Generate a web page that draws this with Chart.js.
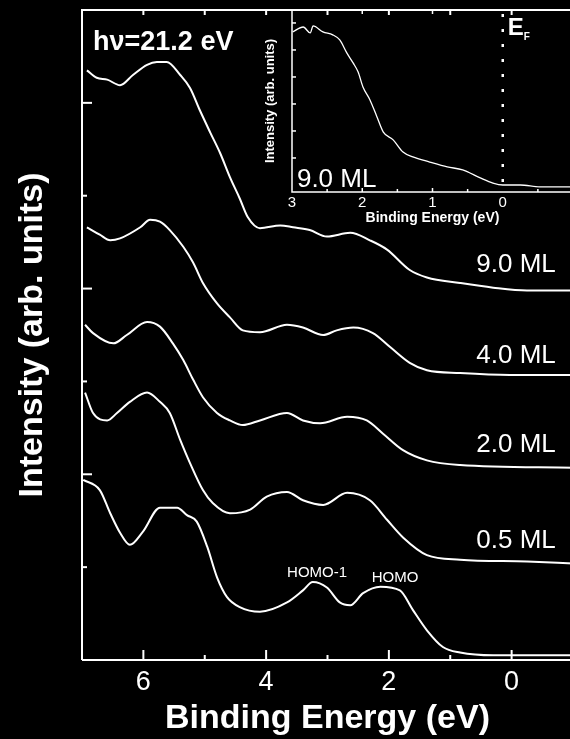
<!DOCTYPE html>
<html><head><meta charset="utf-8">
<script src="https://cdn.jsdelivr.net/npm/chart.js@4.4.1/dist/chart.umd.min.js"></script>
<style>
html,body{margin:0;padding:0;background:#000;overflow:hidden;width:570px;height:739px;}
#wrap{position:relative;width:580px;height:739px;}
#main{position:absolute;left:0;top:0;width:580px;height:739px;}
#inset{position:absolute;left:240px;top:0;width:340px;height:240px;}
</style></head><body>
<div id="wrap">
<canvas id="main" width="580" height="739"></canvas>
<canvas id="inset" width="340" height="240"></canvas>
</div>
<script>
// ---------- data (binding energy in eV, intensity in arb. units, offset stacked) ----------
const xTickLabels = [6, 4, 2, 0];
const insetTickLabels = [3, 2, 1, 0];

const energy9ML = [6.92,6.76,6.59,6.38,6.17,5.94,5.78,5.62,5.40,5.24,5.08,4.91,4.75,4.59,4.43,4.30,4.10,3.77,3.56,3.29,3.01,2.63,2.31,2.03,1.66,1.38,0.84,0.30,-0.25,-1.0];
const intens9ML = [6.35,6.27,6.25,6.19,6.30,6.41,6.44,6.44,6.30,6.16,5.92,5.68,5.46,5.20,4.97,4.77,4.65,4.68,4.66,4.63,4.56,4.60,4.52,4.42,4.20,4.12,4.06,4.01,3.98,3.98];

const energy4ML = [6.92,6.71,6.54,6.38,6.05,5.89,5.73,5.57,5.35,5.19,5.03,4.80,4.59,4.38,4.10,3.66,3.40,3.07,2.85,2.58,2.26,1.98,1.66,1.38,0.84,0.03,-1.0];
const intens4ML = [4.66,4.58,4.52,4.54,4.66,4.74,4.72,4.63,4.45,4.28,4.06,3.84,3.69,3.55,3.53,3.61,3.58,3.50,3.55,3.58,3.52,3.37,3.20,3.12,3.09,3.07,3.07];

const energy2ML = [6.95,6.82,6.49,6.27,5.94,5.73,5.52,5.35,5.19,5.03,4.80,4.59,4.38,4.10,3.66,3.40,3.12,2.68,2.36,2.10,1.77,1.38,0.84,-1.0];
const intens2ML = [3.61,3.52,3.41,3.50,3.64,3.59,3.41,3.23,3.02,2.83,2.66,2.58,2.53,2.58,2.66,2.58,2.55,2.62,2.58,2.44,2.26,2.15,2.10,2.07];

const energy05ML = [6.95,6.82,6.59,6.43,6.22,5.94,5.73,5.57,5.40,5.24,5.03,4.87,4.59,4.26,3.99,3.66,3.40,3.07,2.68,2.31,2.03,1.77,1.38,0.84,-0.25,-1.0];
const intens05ML = [2.88,2.66,2.58,2.66,2.78,2.88,2.78,2.66,2.37,2.12,1.83,1.69,1.58,1.62,1.76,1.81,1.72,1.67,1.80,1.72,1.51,1.32,1.13,1.08,1.06,1.04];

const energyBottom = [6.98,6.71,6.54,6.38,6.22,6.01,5.73,5.45,5.29,5.13,4.96,4.80,4.64,4.43,4.10,3.66,3.40,3.24,3.01,2.80,2.63,2.42,2.14,1.82,1.61,1.38,1.12,0.84,0.30,-1.0];
const intensBottom = [1.94,1.83,1.58,1.37,1.24,1.38,1.64,1.64,1.56,1.49,1.22,0.89,0.68,0.57,0.52,0.62,0.75,0.84,0.78,0.62,0.59,0.72,0.79,0.75,0.54,0.32,0.14,0.08,0.05,0.05];

const energyInset = [2.99,2.84,2.74,2.70,2.56,2.42,2.32,2.22,2.13,2.06,1.99,1.89,1.79,1.70,1.56,1.42,1.28,1.04,0.79,0.57,0.32,0.14,0.0,-0.25,-0.53,-1.0];
const intensInset = [5.67,5.85,5.63,5.89,5.67,5.56,5.37,4.89,4.52,4.19,3.63,3.15,2.52,1.96,1.67,1.22,1.04,0.85,0.67,0.56,0.26,0.07,0.0,0.0,-0.07,-0.07];

const coverageLabels = ['9.0 ML', '4.0 ML', '2.0 ML', '0.5 ML'];

// ---------- helpers ----------
const FONT = '"Liberation Sans", Arial, Helvetica, sans-serif';
const pts = (xs, ys) => xs.map((x, i) => ({x, y: ys[i]}));
const lineDs = (label, xs, ys, w) => ({label, data: pts(xs, ys), borderColor: '#fff', borderWidth: w,
  pointRadius: 0, fill: false, cubicInterpolationMode: 'monotone'});

const bgPlugin = {id: 'bg', beforeDraw(c) { const g = c.ctx; g.save(); g.fillStyle = '#000'; g.fillRect(0, 0, c.width, c.height); g.restore(); }};

function tickMarks(g, scale, values, len, dir, area) {
  values.forEach(v => {
    const p = scale.getPixelForValue(v);
    g.beginPath();
    if (dir === 'up') { g.moveTo(p, area.bottom); g.lineTo(p, area.bottom - len); }
    else if (dir === 'down') { g.moveTo(p, area.top); g.lineTo(p, area.top + len); }
    else { g.moveTo(area.left, p); g.lineTo(area.left + len, p); }
    g.stroke();
  });
}

const mainFrame = {id: 'mainFrame', afterDraw(c) {
  const g = c.ctx, a = c.chartArea, x = c.scales.x, y = c.scales.y;
  g.save(); g.strokeStyle = '#fff'; g.lineWidth = 2;
  g.beginPath(); g.moveTo(a.left, a.bottom); g.lineTo(a.left, a.top); g.lineTo(c.width, a.top); g.stroke();
  g.beginPath(); g.moveTo(a.left, a.bottom); g.lineTo(c.width, a.bottom); g.stroke();
  tickMarks(g, x, [6, 4, 2, 0], 10, 'up', a);
  tickMarks(g, x, [5, 3, 1], 5, 'up', a);
  tickMarks(g, x, [6, 5, 4, 3, 2, 1, 0], 5, 'down', a);
  tickMarks(g, y, [2, 4, 6], 10, 'left', a);
  tickMarks(g, y, [1, 3, 5], 5, 'left', a);
  // texts
  g.fillStyle = '#fff'; g.textBaseline = 'alphabetic';
  g.font = 'bold 27px ' + FONT; g.textAlign = 'left';
  g.fillText('h\u03bd=21.2 eV', x.getPixelForValue(6.82), y.getPixelForValue(6.57));
  g.font = '26px ' + FONT; g.textAlign = 'right';
  const labY = [4.18, 3.20, 2.24, 1.21];
  coverageLabels.forEach((t, i) => g.fillText(t, x.getPixelForValue(-0.72), y.getPixelForValue(labY[i])));
  g.font = '15px ' + FONT; g.textAlign = 'center';
  g.fillText('HOMO-1', x.getPixelForValue(3.17), y.getPixelForValue(0.89));
  g.fillText('HOMO', x.getPixelForValue(1.90), y.getPixelForValue(0.84));
  g.restore();
}};

new Chart(document.getElementById('main'), {
  type: 'line',
  data: {datasets: [
    lineDs('9.0 ML', energy9ML, intens9ML, 2),
    lineDs('4.0 ML', energy4ML, intens4ML, 2),
    lineDs('2.0 ML', energy2ML, intens2ML, 2),
    lineDs('0.5 ML', energy05ML, intens05ML, 2),
    lineDs('bottom', energyBottom, intensBottom, 2)
  ]},
  options: {
    responsive: false, animation: false, devicePixelRatio: 1,
    layout: {padding: {top: 10, right: 7, left: 0, bottom: 0}},
    plugins: {legend: {display: false}, tooltip: {enabled: false}},
    scales: {
      x: {type: 'linear', min: -1, max: 7, reverse: true, position: 'bottom',
        grid: {display: false, drawTicks: false}, border: {display: false},
        afterBuildTicks: s => { s.ticks = xTickLabels.map(v => ({value: v})); },
        afterFit: s => { s.height = 79; },
        ticks: {color: '#fff', font: {family: FONT, size: 27}, padding: 6, maxRotation: 0, autoSkip: false, callback: v => String(v)},
        title: {display: true, text: 'Binding Energy (eV)', color: '#fff', font: {family: FONT, size: 34, weight: 'bold'}, padding: {top: 0, bottom: 0}}
      },
      y: {type: 'linear', min: 0, max: 7,
        grid: {display: false, drawTicks: false}, border: {display: false}, ticks: {display: false},
        afterFit: s => { s.width = 82; },
        title: {display: true, text: 'Intensity (arb. units)', color: '#fff', font: {family: FONT, size: 34, weight: 'bold'}, padding: {top: 12, bottom: 0}}
      }
    }
  },
  plugins: [bgPlugin, mainFrame]
});

// ---------- inset ----------
const insetFrame = {id: 'insetFrame', afterDraw(c) {
  const g = c.ctx, a = c.chartArea, x = c.scales.x, y = c.scales.y;
  g.save(); g.strokeStyle = '#fff'; g.lineWidth = 1.5;
  g.beginPath(); g.moveTo(a.left, a.top); g.lineTo(a.left, a.bottom); g.lineTo(c.width, a.bottom); g.stroke();
  tickMarks(g, x, [2, 1], 4, 'up', a);
  tickMarks(g, x, [2.5, 1.5, 0.5, -0.5], 3, 'up', a);
  tickMarks(g, x, [2, 1], 4, 'down', a);
  tickMarks(g, y, [1, 2, 3, 4, 5, 6], 4, 'left', a);
  // Fermi level
  g.setLineDash([3, 12]); g.lineWidth = 2.5;
  const xf = x.getPixelForValue(0);
  g.beginPath(); g.moveTo(xf, a.top + 4); g.lineTo(xf, a.bottom); g.stroke();
  g.setLineDash([]);
  g.fillStyle = '#fff'; g.textBaseline = 'alphabetic'; g.textAlign = 'left';
  g.font = 'bold 24px ' + FONT;
  g.fillText('E', x.getPixelForValue(-0.07), y.getPixelForValue(5.56));
  g.font = 'bold 10px ' + FONT;
  g.fillText('F', x.getPixelForValue(-0.3), y.getPixelForValue(5.37));
  g.font = '26px ' + FONT;
  g.fillText('9.0 ML', x.getPixelForValue(2.93), y.getPixelForValue(-0.07));
  g.restore();
}};

new Chart(document.getElementById('inset'), {
  type: 'line',
  data: {datasets: [lineDs('9.0 ML inset', energyInset, intensInset, 1.3)]},
  options: {
    responsive: false, animation: false, devicePixelRatio: 1,
    layout: {padding: {top: 10, right: 7, left: 0, bottom: 0}},
    plugins: {legend: {display: false}, tooltip: {enabled: false}},
    scales: {
      x: {type: 'linear', min: -1, max: 3, reverse: true,
        grid: {display: false, drawTicks: false}, border: {display: false},
        afterBuildTicks: s => { s.ticks = insetTickLabels.map(v => ({value: v})); },
        afterFit: s => { s.height = 48; },
        ticks: {color: '#fff', font: {family: FONT, size: 15}, padding: 2, maxRotation: 0, autoSkip: false, callback: v => String(v)},
        title: {display: true, text: 'Binding Energy (eV)', color: '#fff', font: {family: FONT, size: 14, weight: 'bold'}, padding: {top: 0, bottom: 13}}
      },
      y: {type: 'linear', min: -0.26, max: 6.48,
        grid: {display: false, drawTicks: false}, border: {display: false}, ticks: {display: false},
        afterFit: s => { s.width = 52; },
        title: {display: true, text: 'Intensity (arb. units)', color: '#fff', font: {family: FONT, size: 13, weight: 'bold'}, padding: {top: 23, bottom: 0}}
      }
    }
  },
  plugins: [insetFrame]
});
</script>
</body></html>
